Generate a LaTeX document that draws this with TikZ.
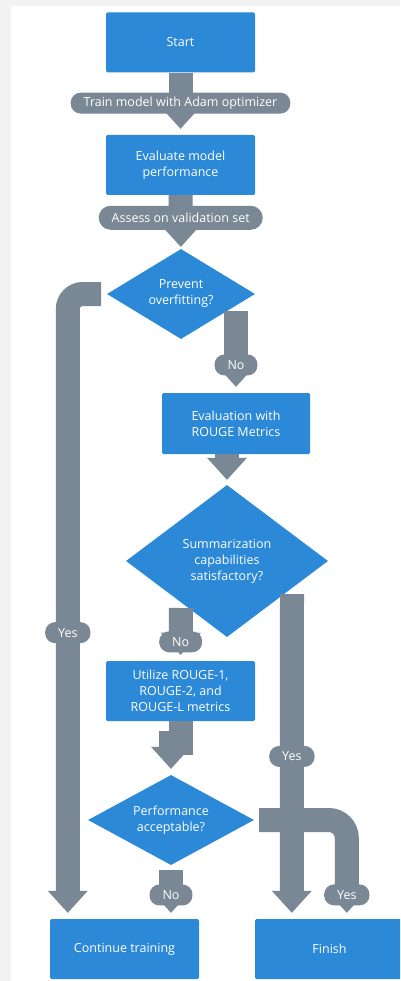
\documentclass[tikz,border=0pt]{standalone}
\usepackage{fontspec}
\setmainfont{Open Sans}
\usetikzlibrary{shapes.geometric,arrows.meta}
\definecolor{boxblue}{HTML}{2B89D8}
\definecolor{edgegray}{HTML}{7A8795}
\definecolor{margingray}{HTML}{F2F2F2}
\tikzset{
  txt/.style={text=white,font=\fontsize{12.5}{16}\selectfont,align=center},
  proc/.style={txt,rectangle,fill=boxblue,rounded corners=1.5pt,minimum width=149pt,minimum height=60pt,inner sep=0pt},
  decide/.style={txt,diamond,fill=boxblue,inner sep=0pt},
  edge/.style={draw=edgegray,line width=24pt,shorten >=6pt,-{Triangle[width=40pt,length=22pt,line width=0pt]}},
  pill/.style={txt,fill=edgegray,rounded corners=10pt,minimum height=21pt,inner xsep=13pt,inner ysep=0pt}
}
\begin{document}
\begin{tikzpicture}[x=1pt,y=-1pt]
\useasboundingbox (0,0) rectangle (400,981);
\clip (0,0) rectangle (400,981);
\fill[margingray] (0,0) rectangle (400,981);
\fill[white] (11,6) rectangle (400,981);
% nodes
\node[proc] (start) at (180.5,42.5) {Start};
\node[proc] (eval) at (180.5,165) {Evaluate model\\performance};
\node[decide,shape aspect=1.64,minimum width=148pt,minimum height=90pt] (d1) at (181,294) {Prevent\\overfitting?};
\node[proc,minimum width=148pt,minimum height=61pt] (rouge) at (236,423.5) {Evaluation with\\ROUGE Metrics};
\node[decide,shape aspect=1.33,minimum width=202pt,minimum height=152pt] (d2) at (227,561) {Summarization\\capabilities\\satisfactory?};
\node[proc] (util) at (180.5,691) {Utilize ROUGE-1,\\ROUGE-2, and\\ROUGE-L metrics};
\node[decide,shape aspect=1.84,minimum width=166pt,minimum height=90pt] (d3) at (171,820) {Performance\\acceptable?};
\node[proc] (cont) at (124.5,949) {Continue training};
\node[proc] (fin) at (329.5,949) {Finish};
% free ends of connectors
\coordinate (d1no) at (236,311);
\coordinate (d1yes) at (101,294);
\coordinate (d2no) at (181,608);
\coordinate (d2yes) at (292,594);
% connectors
\draw[edge] (start) -- node[pill,pos=0.49]{Train model with Adam optimizer} (eval);
\draw[edge,shorten >=2pt] (eval) -- node[pill,pos=0.42,minimum height=24pt,rounded corners=12pt]{Assess on validation set} (d1);
\draw[edge] (d1no) -- node[pill,pos=0.66]{No} (rouge.north);
\draw[edge,shorten >=5pt] (rouge.south -| d2.north) -- (d2.north);
\draw[edge] (d2no) -- node[pill,pos=0.64]{No} (util.north);
\draw[edge] (util.south) -- ++(0,22) -| (d3.north);
\draw[edge] ([yshift=-5pt]d3.south) -- node[pill,pos=0.51]{No} (d3.south |- cont.north);
\draw[edge,rounded corners=15pt] (d1yes) -| node[pill,pos=0.771]{Yes} ([xshift=18pt]cont.north west);
\draw[edge] (d2yes) -- node[pill,pos=0.5]{Yes} ([xshift=37pt]fin.north west);
\draw[edge,rounded corners=18pt] ([xshift=5pt]d3.east) -| node[pill,pos=0.879]{Yes} ([xshift=92pt]fin.north west);
\end{tikzpicture}
\end{document}
